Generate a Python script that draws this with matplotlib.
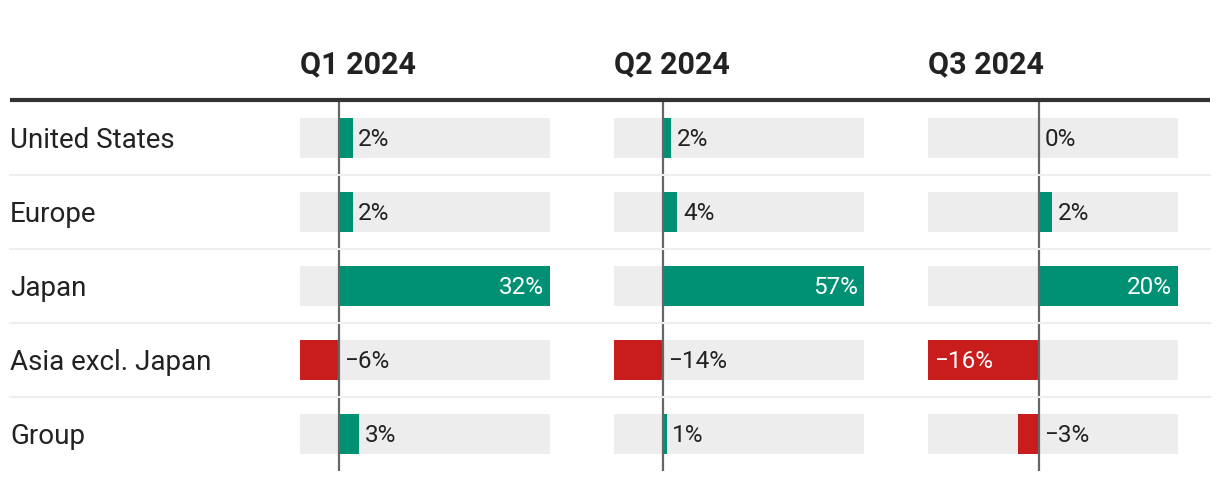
import matplotlib.pyplot as plt

plt.rcParams["font.family"] = ["Roboto", "DejaVu Sans"]

regions = ["United States", "Europe", "Japan", "Asia excl. Japan", "Group"]
quarters = ["Q1 2024", "Q2 2024", "Q3 2024"]
q1_values = [2, 2, 32, -6, 3]
q2_values = [2.3, 4, 57, -14, 1]
q3_values = [0, 1.9, 20, -16, -3]
value_labels = [
    ["2%", "2%", "32%", "\u22126%", "3%"],
    ["2%", "4%", "57%", "\u221214%", "1%"],
    ["0%", "2%", "20%", "\u221216%", "\u22123%"],
]

GREEN = "#009175"
RED = "#c91d1d"
TRACK = "#ededed"
W, H = 1220, 480


def px_box(left, top, width, height):
    # figure fraction box from pixel coords (top-down)
    return [left / W, 1 - (top + height) / H, width / W, height / H]


def main() -> None:
    fig = plt.figure(figsize=(W / 100, H / 100), dpi=100)

    col_lefts = [300, 614, 928]
    row_top, row_h = 101, 74
    n = len(regions)

    for j, (vals, labels) in enumerate(zip([q1_values, q2_values, q3_values], value_labels)):
        ax = fig.add_axes(px_box(col_lefts[j], row_top, 250, row_h * n))
        lo, hi = min(min(vals), 0), max(max(vals), 0)
        span = hi - lo
        ax.set_xlim(lo, hi)
        ax.set_ylim(n - 0.5, -0.5)
        ax.axis("off")
        ys = list(range(n))
        ax.barh(ys, [span] * n, left=lo, height=40 / row_h, color=TRACK, zorder=1)
        colors = [GREEN if v >= 0 else RED for v in vals]
        ax.barh(ys, vals, height=40 / row_h, color=colors, zorder=2)
        ax.axvline(0, color="#666666", lw=1.6, zorder=3)
        for y, v, lab in zip(ys, vals, labels):
            inside = abs(v) / span > 0.3
            kw = dict(textcoords="offset points", va="center", fontsize=17.5, zorder=4)
            if v >= 0:
                if inside:
                    ax.annotate(lab, (v, y), xytext=(-4.5, -1.2), ha="right", color="white", **kw)
                else:
                    ax.annotate(lab, (v, y), xytext=(4, -1.2), ha="left", color="#222222", **kw)
            else:
                if inside:
                    ax.annotate(lab, (v, y), xytext=(4.5, -1.2), ha="left", color="white", **kw)
                else:
                    ax.annotate(lab, (0, y), xytext=(3.5, -1.2), ha="left", color="#222222", **kw)

    # overlay for headers, row labels and rules
    ov = fig.add_axes([0, 0, 1, 1], facecolor="none")
    ov.set_xlim(0, W)
    ov.set_ylim(H, 0)
    ov.axis("off")
    for x, q in zip(col_lefts, quarters):
        ov.text(x, 64, q, ha="left", va="center", fontsize=22, fontweight="bold", color="#222222")
    ov.plot([10, 1210], [100, 100], color="#333333", lw=3, solid_capstyle="butt")
    for i, name in enumerate(regions):
        yc = row_top + row_h * i + row_h / 2
        ov.text(10, yc + 2.5, name, ha="left", va="center", fontsize=20, color="#222222")
        if i > 0:
            ov.plot([10, 1210], [row_top + row_h * i] * 2, color="#eeeeee", lw=1.5)

    fig.savefig("out.png", dpi=100)
    plt.close(fig)


if __name__ == "__main__":
    main()
